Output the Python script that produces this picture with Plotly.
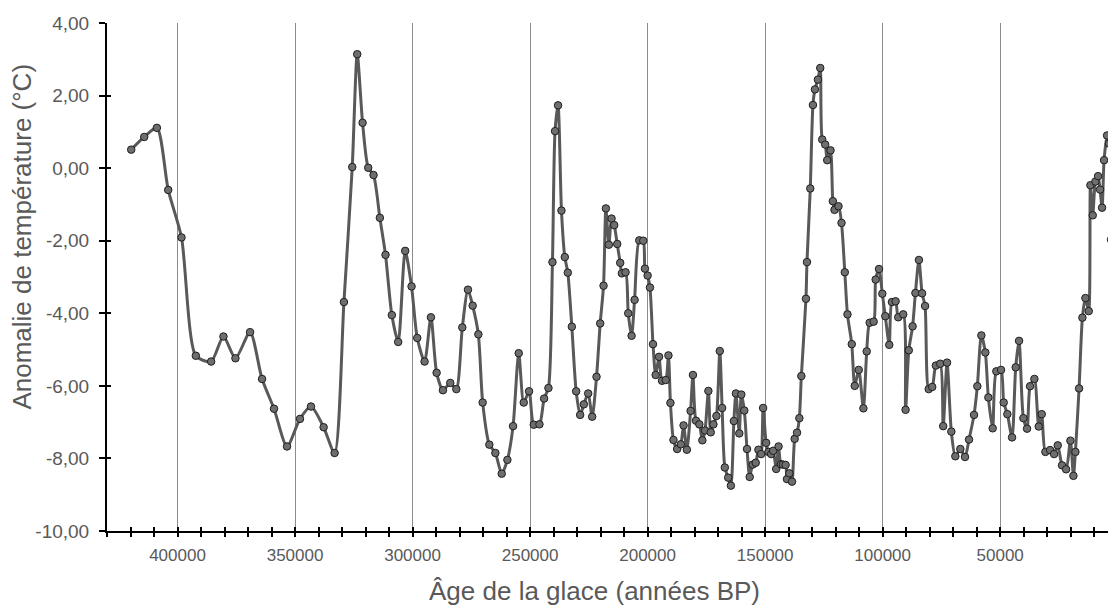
import plotly.graph_objects as go

# Age de la glace (années BP) and temperature anomaly (°C)
age = [419700, 414160, 408780, 403960, 398300, 392210, 385700, 380460, 375360, 369130,
       364030, 358940, 353410, 347900, 343220, 337840, 333170, 329200, 325660, 323540,
       321270, 318870, 316600, 313910, 311500, 308810, 306120, 303130, 300430, 298010,
       294890, 292190, 289770, 287070, 283950, 281390, 278830, 276420, 274430, 272010,
       270170, 267330, 264770, 262070, 259660, 257240, 254830, 252700, 250430, 248440,
       246020, 244030, 242190, 240480, 239380, 238100, 236650, 235230, 233950, 232240,
       230400, 228690, 227130, 225280, 223580, 221730, 220170, 218750, 217750, 216480,
       215340, 214200, 212930, 211650, 210940, 209380, 208240, 206820, 205540, 203550,
       201860, 201140, 200000, 199000, 197710, 196570, 195140, 193860, 192290, 191140,
       190290, 189000, 187430, 185860, 184710, 183290, 181710, 180710, 179430, 178000,
       176710, 175570, 174140, 173140, 172000, 170710, 169290, 168290, 167140, 165710,
       164570, 163290, 162430, 161000, 160140, 158860, 157710, 156570, 155290, 154000,
       152860, 151710, 150860, 149570, 148570, 147430, 146570, 145290, 144290, 143290,
       142430, 141290, 140710, 139710, 138570, 137430, 136430, 135440, 134590, 132630,
       132200, 130790, 129660, 128810, 127540, 126550, 125710, 124440, 123590, 122180,
       121190, 120480, 118790, 117510, 116100, 114970, 113140, 111870, 110170, 108190,
       106780, 105510, 103820, 102970, 101550, 100140, 98870, 97180, 96050, 94490,
       93370, 91240, 90250, 88880, 87260, 86060, 84570, 83220, 81950, 80400,
       78910, 77350, 75500, 74240, 72600, 70780, 69080, 66950, 64960, 63260,
       61130, 59710, 58010, 56310, 55030, 53190, 51630, 49640, 48500, 46940,
       44950, 43390, 41970, 40130, 38570, 37290, 35440, 33600, 32320, 30760,
       28770, 27070, 25510, 23670, 21960, 20120, 18840, 17990, 16430, 15010,
       13740, 12320, 11610, 10620, 9480, 8350, 7500, 6650, 5790, 4520,
       3670, 2820, 2100, 1700, 1100]

temp = [0.51, 0.86, 1.11, -0.60, -1.91, -5.17, -5.33, -4.64, -5.24, -4.52,
        -5.81, -6.63, -7.67, -6.91, -6.57, -7.14, -7.85, -3.69, 0.03, 3.14,
        1.25, 0.01, -0.19, -1.37, -2.39, -4.05, -4.79, -2.28, -3.26, -4.68,
        -5.33, -4.11, -5.64, -6.12, -5.92, -6.09, -4.39, -3.35, -3.79, -4.58,
        -6.46, -7.62, -7.85, -8.42, -8.04, -7.11, -5.10, -6.46, -6.15, -7.07,
        -7.06, -6.35, -6.06, -2.59, 1.02, 1.73, -1.17, -2.45, -2.88, -4.37,
        -6.15, -6.80, -6.51, -6.21, -6.85, -5.75, -4.28, -3.24, -1.11, -2.11,
        -1.39, -1.57, -2.09, -2.61, -2.90, -2.87, -4.00, -4.62, -3.63, -1.99,
        -2.00, -2.77, -2.96, -3.29, -4.85, -5.70, -5.20, -5.86, -5.84, -5.16,
        -6.47, -7.49, -7.74, -7.61, -7.09, -7.76, -6.69, -5.70, -6.96, -7.06,
        -7.50, -7.23, -6.14, -7.28, -7.06, -6.83, -5.04, -6.61, -8.25, -8.53,
        -8.75, -6.97, -6.21, -7.31, -6.24, -6.68, -7.74, -8.51, -8.17, -8.12,
        -7.76, -7.88, -6.61, -7.57, -7.82, -7.88, -7.79, -8.29, -7.67, -8.16,
        -8.17, -8.18, -8.57, -8.41, -8.64, -7.46, -7.29, -6.89, -5.73, -3.60,
        -2.59, -0.56, 1.74, 2.17, 2.44, 2.76, 0.79, 0.65, 0.22, 0.49,
        -0.91, -1.15, -1.05, -1.51, -2.87, -4.03, -4.85, -6.00, -5.56, -6.62,
        -5.05, -4.26, -4.23, -3.07, -2.78, -3.46, -4.08, -4.87, -3.69, -3.67,
        -4.11, -4.03, -6.66, -5.02, -4.36, -3.44, -2.53, -3.45, -3.80, -6.09,
        -6.03, -5.44, -5.39, -7.11, -5.36, -7.26, -7.94, -7.74, -7.96, -7.48,
        -6.80, -6.01, -4.61, -5.08, -6.32, -7.17, -5.60, -5.56, -6.46, -6.78,
        -7.42, -5.49, -4.76, -6.89, -7.18, -6.01, -5.81, -7.12, -6.78, -7.82,
        -7.77, -7.88, -7.64, -8.19, -8.30, -7.51, -8.48, -7.82, -6.07, -4.12,
        -3.58, -3.94, -0.47, -1.30, -0.37, -0.22, -0.59, -1.09, 0.22, 0.90,
        0.68, -1.97, 0.16, -0.27, 0.03]

y_tickvals = [-10, -8, -6, -4, -2, 0, 2, 4]
y_ticktext = ["-10,00", "-8,00", "-6,00", "-4,00", "-2,00", "0,00", "2,00", "4,00"]
x_title = "Âge de la glace (années BP)"
y_title = "Anomalie de température (°C)"

FONT = "Liberation Sans, Arial, sans-serif"
GREY_TXT = "#595959"

fig = go.Figure()
fig.add_trace(go.Scatter(
    x=age, y=temp, mode="lines+markers",
    line=dict(color="#595959", width=3, shape="spline", smoothing=0.7),
    marker=dict(symbol="circle", size=7.5, color="#6e6e6e",
                line=dict(color="#1e1e1e", width=1)),
    showlegend=False, hoverinfo="x+y"))
# helper trace so the overlay axes (for crossing tick marks) are drawn
fig.add_trace(go.Scatter(x=[], y=[], xaxis="x2", yaxis="y2",
                         showlegend=False, hoverinfo="skip"))

fig.update_layout(
    width=1108, height=597,
    margin=dict(l=99, r=0, t=15, b=74),
    paper_bgcolor="white", plot_bgcolor="white",
    separators=", ",
    font=dict(family=FONT, color=GREY_TXT),
    xaxis=dict(
        range=[430000, 723], tickmode="linear", tick0=0, dtick=50000,
        tickformat="d", ticks="outside", ticklen=4, tickwidth=2, tickcolor="black",
        minor=dict(tickmode="linear", tick0=0, dtick=10000, ticks="outside",
                   ticklen=4, tickwidth=2, tickcolor="black", showgrid=False),
        showline=True, linecolor="black", linewidth=2,
        showgrid=True, gridcolor="#8c8c8c", gridwidth=1,
        zeroline=False, tickfont=dict(size=17, color=GREY_TXT),
        ticklabelstandoff=4),
    xaxis2=dict(
        overlaying="x", matches="x", anchor="y", side="bottom",
        tickmode="linear", tick0=0, dtick=50000,
        ticks="inside", ticklen=4, tickwidth=2, tickcolor="black",
        minor=dict(tickmode="linear", tick0=0, dtick=10000, ticks="inside",
                   ticklen=4, tickwidth=2, tickcolor="black", showgrid=False),
        showticklabels=False, showgrid=False, showline=False, zeroline=False),
    yaxis=dict(
        range=[-10, 4], tickmode="array", tickvals=y_tickvals, ticktext=y_ticktext,
        ticks="outside", ticklen=6, tickwidth=2, tickcolor="black",
        showline=True, linecolor="black", linewidth=2,
        showgrid=False, zeroline=False,
        tickfont=dict(size=19, color=GREY_TXT), ticklabelstandoff=6),
    yaxis2=dict(
        overlaying="y", matches="y", anchor="x", side="left",
        tickmode="array", tickvals=y_tickvals,
        ticks="inside", ticklen=4, tickwidth=2, tickcolor="black",
        showticklabels=False, showgrid=False, showline=False, zeroline=False),
    annotations=[
        dict(text=y_title, textangle=-90, xref="paper", yref="paper",
             x=-0.084, y=0.58, xanchor="center", yanchor="middle",
             showarrow=False, font=dict(size=26, color=GREY_TXT, family=FONT)),
        dict(text=x_title, xref="paper", yref="paper",
             x=0.4836, y=-0.118, xanchor="center", yanchor="middle",
             showarrow=False, font=dict(size=26, color=GREY_TXT, family=FONT)),
        dict(text="0", xref="paper", yref="paper", x=1.0017, y=-0.043,
             xanchor="center", yanchor="middle", showarrow=False,
             font=dict(size=17, color=GREY_TXT, family=FONT)),
    ],
)

fig.write_html("out.html")
